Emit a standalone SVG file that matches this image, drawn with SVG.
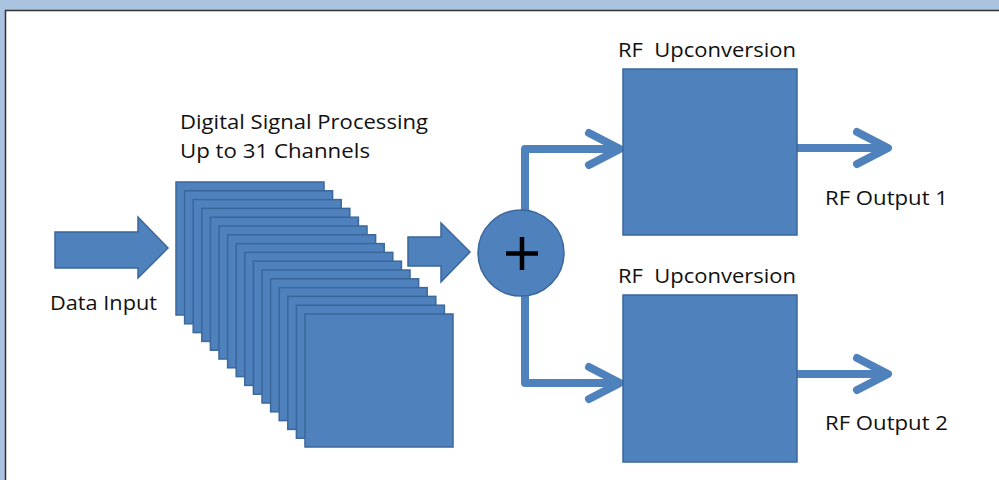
<svg xmlns="http://www.w3.org/2000/svg" width="999" height="480" viewBox="0 0 999 480">
<defs>
<style>
.blk{fill:#4f81bd;stroke:#3a679c;stroke-width:1.5}
.con{fill:none;stroke:#4f81bd;stroke-width:8;stroke-linecap:round;stroke-linejoin:round}
.t{font-family:"Open Sans","Liberation Sans",sans-serif;font-size:20px;fill:#111111;white-space:pre}
</style>
</defs>
<rect x="0" y="0" width="999" height="480" fill="#a9c3e1"/>
<rect x="5.5" y="10.5" width="1000" height="480" fill="#ffffff" stroke="#333333" stroke-width="1.5"/>
<g id="data-input">
<polygon class="blk" points="55,232 138,232 138,217 168,248 138,278 138,268 55,268"/>
<text class="t" x="50" y="310" textLength="107" lengthAdjust="spacingAndGlyphs">Data Input</text>
</g>
<g id="dsp">
<rect class="blk" x="176" y="182" width="148" height="133"/>
<rect class="blk" x="184.6" y="190.8" width="148" height="133"/>
<rect class="blk" x="193.2" y="199.6" width="148" height="133"/>
<rect class="blk" x="201.8" y="208.4" width="148" height="133"/>
<rect class="blk" x="210.4" y="217.2" width="148" height="133"/>
<rect class="blk" x="219" y="226" width="148" height="133"/>
<rect class="blk" x="227.6" y="234.8" width="148" height="133"/>
<rect class="blk" x="236.2" y="243.6" width="148" height="133"/>
<rect class="blk" x="244.8" y="252.4" width="148" height="133"/>
<rect class="blk" x="253.4" y="261.2" width="148" height="133"/>
<rect class="blk" x="262" y="270" width="148" height="133"/>
<rect class="blk" x="270.6" y="278.8" width="148" height="133"/>
<rect class="blk" x="279.2" y="287.6" width="148" height="133"/>
<rect class="blk" x="287.8" y="296.4" width="148" height="133"/>
<rect class="blk" x="296.4" y="305.2" width="148" height="133"/>
<rect class="blk" x="305" y="314" width="148" height="133"/>
<text class="t" x="180" y="129" textLength="248" lengthAdjust="spacingAndGlyphs">Digital Signal Processing</text>
<text class="t" x="180" y="158" textLength="190" lengthAdjust="spacingAndGlyphs">Up to 31 Channels</text>
</g>
<g id="dsp-arrow">
<polygon class="blk" points="408,237 441,237 441,223 470,252 441,282 441,266 408,266"/>
</g>
<g id="connectors">
<polyline class="con" points="525,212 525,149 618,149"/>
<polyline class="con" points="589,133 620,149 589,165"/>
<polyline class="con" points="525,294 525,383 618,383"/>
<polyline class="con" points="589,367 620,383 589,399"/>
<polyline class="con" points="798,148 886,148"/>
<polyline class="con" points="857,132 888,148 857,164"/>
<polyline class="con" points="798,374 886,374"/>
<polyline class="con" points="857,358 888,374 857,390"/>
</g>
<g id="sum">
<circle class="blk" cx="521" cy="253" r="43"/>
<path d="M506,253.5 H538 M522,237 V270" stroke="#000000" stroke-width="4.5" fill="none"/>
</g>
<g id="rf-up-1">
<rect class="blk" x="623" y="69" width="174" height="166"/>
<text class="t" x="618" y="57" textLength="178" lengthAdjust="spacingAndGlyphs" xml:space="preserve">RF  Upconversion</text>
</g>
<g id="rf-up-2">
<rect class="blk" x="623" y="295" width="174" height="167"/>
<text class="t" x="618" y="283" textLength="178" lengthAdjust="spacingAndGlyphs" xml:space="preserve">RF  Upconversion</text>
</g>
<g id="out-1">
<text class="t" x="825" y="205" textLength="123" lengthAdjust="spacingAndGlyphs">RF Output 1</text>
</g>
<g id="out-2">
<text class="t" x="825" y="430" textLength="123" lengthAdjust="spacingAndGlyphs">RF Output 2</text>
</g>
</svg>
